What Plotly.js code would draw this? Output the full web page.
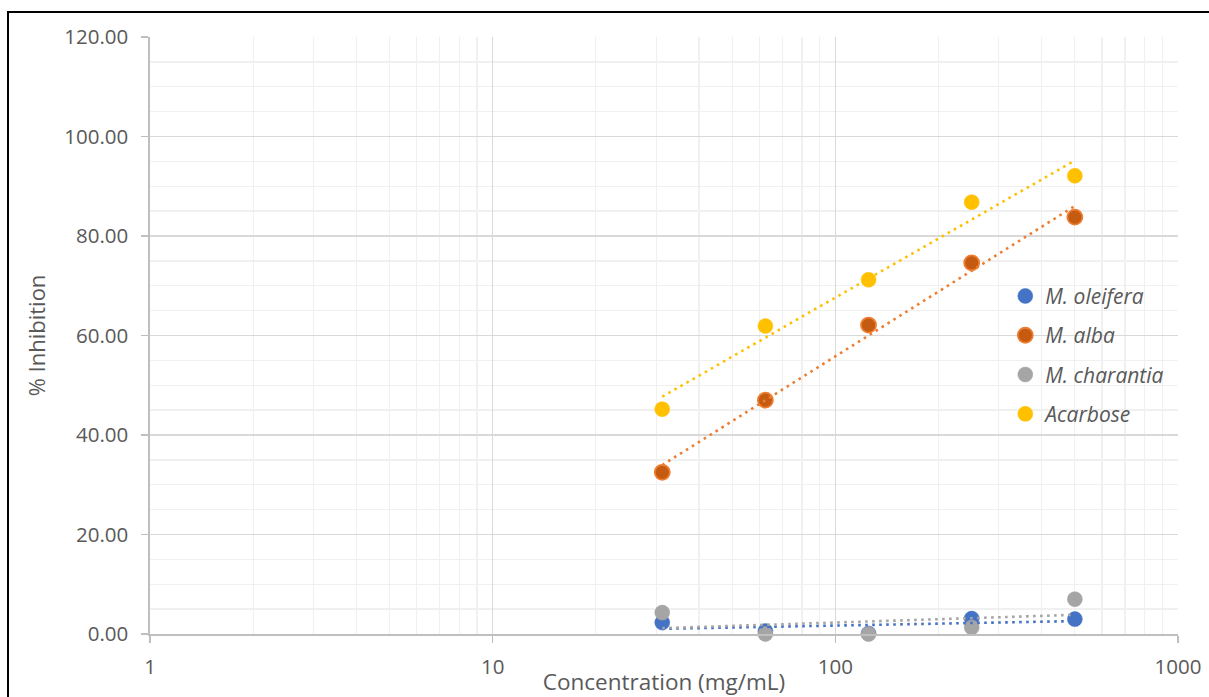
<!DOCTYPE html>
<html>
<head>
<meta charset="utf-8">
<script src="https://cdn.plot.ly/plotly-3.0.1.min.js"></script>
<style>
  html, body { margin: 0; padding: 0; background: #fff; }
  #wrap { position: relative; width: 1209px; height: 697px; overflow: hidden; }
  #chart { position: absolute; left: 0; top: 0; width: 1209px; height: 697px; }
  #frame { position: absolute; left: 7px; top: 11px; width: 1300px; height: 800px;
           border: 2px solid #000; pointer-events: none; box-sizing: border-box; }
</style>
</head>
<body>
<div id="wrap">
  <div id="chart"></div>
  <div id="frame"></div>
</div>
<script>
// ---- data ----
const concentrations = [31.25, 62.5, 125, 250, 500];
const seriesNames = ["M. oleifera", "M. alba", "M. charantia", "Acarbose"];
const oleifera  = [2.3, 0.6, 0.1, 3.1, 3.0];
const alba      = [32.5, 47.0, 62.1, 74.6, 83.8];
const charantia = [4.3, 0.0, 0.0, 1.3, 7.0];
const acarbose  = [45.2, 61.9, 71.2, 86.8, 92.1];
const xTickVals = [1, 10, 100, 1000];
const xTickText = ["1", "10", "100", "1000"];

// ---- styles ----
const colors = ["#4472C4", "#ED7D31", "#A5A5A5", "#FFC000"];
const fills  = ["#4472C4", "#C55A11", "#A5A5A5", "#FFC000"];
const allSeries = [oleifera, alba, charantia, acarbose];
const textColor = "#595959";
const FONT = "Open Sans, Liberation Sans, sans-serif";

// logarithmic least-squares fit (Excel "Logarithmic" trendline)
function logFit(xs, ys) {
  const lx = xs.map(Math.log);
  const n = xs.length;
  const mx = lx.reduce((a, b) => a + b, 0) / n;
  const my = ys.reduce((a, b) => a + b, 0) / n;
  let sxy = 0, sxx = 0;
  for (let i = 0; i < n; i++) { sxy += (lx[i] - mx) * (ys[i] - my); sxx += (lx[i] - mx) ** 2; }
  const b = sxy / sxx, a = my - b * mx;
  return x => a + b * Math.log(x);
}

const traces = [];
allSeries.forEach((ys, i) => {
  traces.push({
    type: "scatter", mode: "markers", name: seriesNames[i],
    x: concentrations, y: ys, cliponaxis: false,
    legendgroup: "g" + i,
    marker: { size: 15, color: fills[i], line: { color: colors[i], width: i === 1 ? 1.8 : 0.5 } },
    hoverinfo: "x+y+name"
  });
});
allSeries.forEach((ys, i) => {
  const f = logFit(concentrations, ys);
  const xEnds = [concentrations[0], concentrations[concentrations.length - 1]];
  traces.push({
    type: "scatter", mode: "lines", showlegend: false, cliponaxis: false,
    x: xEnds, y: xEnds.map(f),
    line: { color: colors[i], width: 2.6, dash: "2.6px,4.4px" },
    hoverinfo: "skip"
  });
});

const minorX = [];
[1, 10, 100].forEach(d => { for (let k = 2; k <= 9; k++) minorX.push(d * k); });

const layout = {
  width: 1209, height: 697,
  margin: { l: 150, r: 31, t: 37, b: 63 },
  paper_bgcolor: "#fff", plot_bgcolor: "#fff",
  showlegend: true,
  legend: {
    x: 0.832, y: 0.60, xanchor: "left", yanchor: "top",
    bgcolor: "rgba(0,0,0,0)", traceorder: "grouped", tracegroupgap: 9,
    font: { family: FONT, size: 21, color: textColor, style: "italic" },
    itemsizing: "trace"
  },
  xaxis: {
    type: "log", range: [0, 3],
    tickvals: xTickVals, ticktext: xTickText,
    showgrid: true, gridcolor: "#D9D9D9", gridwidth: 1.3,
    minor: { tickvals: minorX, showgrid: true, gridcolor: "#F0F0F0", gridwidth: 1.3, ticks: "" },
    showline: true, linecolor: "#BFBFBF", linewidth: 1.6,
    ticks: "outside", ticklen: 7, tickcolor: "#BFBFBF", tickwidth: 1.3,
    ticklabelstandoff: 7,
    tickfont: { family: FONT, size: 20.5, color: textColor },
    zeroline: false,
    title: { text: "Concentration (mg/mL)", standoff: 0,
             font: { family: FONT, size: 22.5, color: textColor } }
  },
  yaxis: {
    range: [0, 120], dtick: 20, tick0: 0, tickformat: ".2f",
    showgrid: true, gridcolor: "#D9D9D9", gridwidth: 1.3,
    minor: { dtick: 5, showgrid: true, gridcolor: "#F0F0F0", gridwidth: 1.3, ticks: "" },
    showline: true, linecolor: "#BFBFBF", linewidth: 1.6,
    ticks: "outside", ticklen: 7, tickcolor: "#BFBFBF", tickwidth: 1.3,
    ticklabelstandoff: 9,
    tickfont: { family: FONT, size: 20.5, color: textColor },
    zeroline: false,
    title: { text: "% Inhibition", standoff: 12,
             font: { family: FONT, size: 22, color: textColor } }
  }
};

Plotly.newPlot("chart", traces, layout, { displayModeBar: false, staticPlot: true });
</script>
</body>
</html>
